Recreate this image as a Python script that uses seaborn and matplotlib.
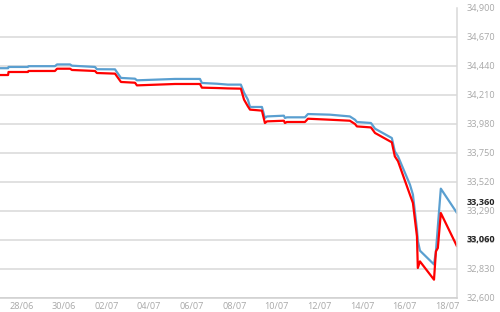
import numpy as np
import pandas as pd
import matplotlib
matplotlib.use("Agg")
import matplotlib.pyplot as plt
import matplotlib.dates as mdates
import seaborn as sns

# time offsets in days from 27/06 00:00
days = [0.00, 0.38, 0.40, 1.31, 1.34, 2.58, 2.68, 3.29, 3.38, 4.46, 4.55, 5.40,
        5.68, 6.34, 6.43, 8.22, 9.39, 9.48, 10.19, 10.70, 11.31, 11.46, 11.64,
        11.74, 12.30, 12.44, 12.54, 13.33, 13.38, 13.47, 14.32, 14.46, 15.49,
        16.43, 16.67, 16.76, 17.42, 17.61, 18.40, 18.54, 18.69, 19.25, 19.39,
        19.58, 19.62, 19.72, 20.38, 20.47, 20.56, 20.70, 21.46]

sell = [34420, 34420, 34430, 34430, 34436, 34436, 34450, 34450, 34440, 34430,
        34412, 34411, 34343, 34337, 34324, 34335, 34335, 34303, 34297, 34290,
        34290, 34226, 34171, 34113, 34113, 34026, 34038, 34044, 34026, 34031,
        34031, 34057, 34052, 34038, 34012, 33994, 33986, 33941, 33867, 33761,
        33722, 33498, 33419, 33141, 33054, 32975, 32866, 32967, 33165, 33466,
        33273]

buy = [34366, 34366, 34390, 34390, 34398, 34398, 34416, 34416, 34406, 34398,
       34382, 34377, 34311, 34305, 34284, 34295, 34295, 34266, 34263, 34260,
       34258, 34171, 34118, 34092, 34084, 33986, 33999, 34004, 33986, 33994,
       33994, 34020, 34012, 34004, 33978, 33959, 33951, 33907, 33833, 33722,
       33683, 33418, 33353, 33088, 32838, 32890, 32745, 32969, 32996, 33273,
       33009]

y_ticks = [32600, 32830, 33060, 33290, 33520, 33750, 33980, 34210, 34440, 34670, 34900]
x_tick_labels = ['28/06', '30/06', '02/07', '04/07', '06/07', '08/07',
                 '10/07', '12/07', '14/07', '16/07', '18/07']
x_tick_dates = ['2016-06-28', '2016-06-30', '2016-07-02', '2016-07-04', '2016-07-06',
                '2016-07-08', '2016-07-10', '2016-07-12', '2016-07-14', '2016-07-16',
                '2016-07-18']
last_labels = [33360, 33060]

base = pd.Timestamp('2016-06-27')
t = base + pd.to_timedelta(days, unit='D')
df = pd.DataFrame({'t': t, 'sell': sell, 'buy': buy})

sns.set_style("white")
plt.rcParams['font.family'] = ['Open Sans', 'DejaVu Sans']

fig = plt.figure(figsize=(5.0, 3.12), dpi=100)
ax = fig.add_axes([0.0, 1 - 298 / 312, 457 / 500, (298 - 7.6) / 312])

sns.lineplot(data=df, x='t', y='sell', ax=ax, color='#5a9fd0', linewidth=1.6)
sns.lineplot(data=df, x='t', y='buy', ax=ax, color='#ff0000', linewidth=1.6)

ax.set_xlim(base, base + pd.Timedelta(days=21.46))
ax.set_ylim(32600, 34900)
ax.set_xlabel('')
ax.set_ylabel('')

ax.yaxis.tick_right()
ax.set_yticks(y_ticks)
ax.set_yticklabels([f"{v:,}" for v in y_ticks])
ax.set_xticks(pd.to_datetime(x_tick_dates))
ax.set_xticklabels(x_tick_labels)

ax.tick_params(axis='y', length=0, pad=7, labelsize=6.6, labelcolor='#a8a8a8')
ax.tick_params(axis='x', length=6, width=0.8, color='#e2e2e2', pad=-3.4,
               labelsize=6.6, labelcolor='#a8a8a8')

ax.grid(axis='y', color='#d9d9d9', linewidth=1.1)
ax.grid(axis='x', visible=False)
gl = ax.get_ygridlines()
gl[-1].set_visible(False)

for s in ['top', 'left']:
    ax.spines[s].set_visible(False)
ax.spines['bottom'].set_color('#cfcfcf')
ax.spines['bottom'].set_linewidth(1.1)
ax.spines['right'].set_color('#d9d9d9')
ax.spines['right'].set_linewidth(1.1)

for v in last_labels:
    ax.annotate(f"{v:,}", xy=(1, v), xycoords=('axes fraction', 'data'),
                xytext=(7, 0), textcoords='offset points', ha='left', va='center',
                fontsize=6.6, color='#222222', fontweight='bold')

fig.savefig('out.png', dpi=100)
